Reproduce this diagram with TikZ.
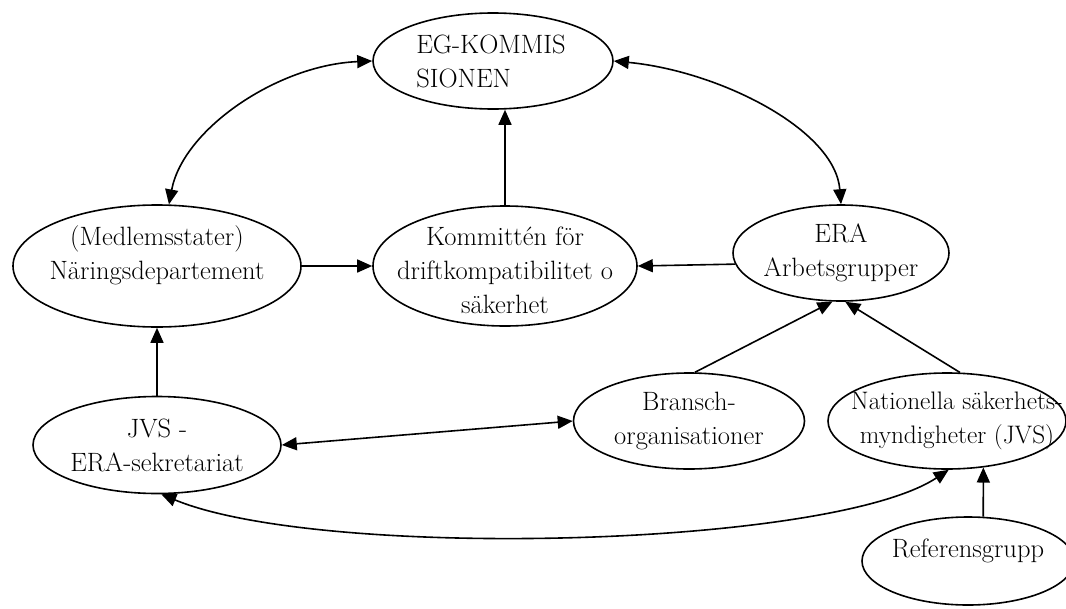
\documentclass[tikz,border=0pt]{standalone}
\usetikzlibrary{shapes.geometric,arrows.meta}
\tikzset{
  box/.style={ellipse, draw, line width=1.6pt, inner sep=0pt},
  lab/.style={font=\fontsize{26.5}{34}\selectfont, align=center, inner sep=0pt},
  tip/.tip={Triangle[length=15pt,width=13pt]},
  arr/.style={line width=1.6pt, -tip},
  darr/.style={line width=1.6pt, tip-tip},
}
\begin{document}
\begin{tikzpicture}[x=1pt,y=-1pt]
\useasboundingbox (0,0) rectangle (1066,608);
\clip (0,0) rectangle (1066,608);

\node[box, minimum width=240pt, minimum height=96pt,
  label={[lab, align=left, xshift=-2pt]center:{EG-KOMMIS\\SIONEN}}] (eg) at (493,61) {};
\node[box, minimum width=288pt, minimum height=122pt,
  label={[lab, yshift=11pt]center:{(Medlemsstater)\\Näringsdepartement}}] (med) at (157,266) {};
\node[box, minimum width=264pt, minimum height=120pt,
  label={[lab, yshift=-4pt]center:{Kommittén för\\driftkompatibilitet o\\säkerhet}}] (kom) at (505,266) {};
\node[box, minimum width=216pt, minimum height=96pt,
  label={[lab]center:{ERA\\Arbetsgrupper}}] (era) at (841,253) {};
\node[box, minimum width=248pt, minimum height=97pt,
  label={[lab]center:{JVS -\\ERA-sekretariat}}] (jvs) at (157,445) {};
\node[box, minimum width=231pt, minimum height=96pt,
  label={[lab]center:{Bransch-\\organisationer}}] (bra) at (689,421) {};
\node[box, minimum width=238pt, minimum height=96pt,
  label={[lab, font=\fontsize{25.3}{34}\selectfont, xshift=10pt]center:{Nationella säkerhets-\\myndigheter (JVS)}}] (nat) at (947,421) {};
\node[box, minimum width=212pt, minimum height=88pt,
  label={[lab, yshift=10pt]center:{Referensgrupp}}] (ref) at (968,561) {};

\draw[darr] (med.79) .. controls +(14,-75) and +(-95,4) .. (eg.west);
\draw[darr] (eg.east) .. controls +(105,10) and +(-6,-75) .. (era.north);
\draw[arr] (kom.north) -- (kom.north |- eg.south);
\draw[arr] (med.east) -- (kom.west);
\draw[arr] (era.186) -- (kom.east);
\draw[arr] (bra.83) -- (era.260);
\draw[arr] (nat.75) -- (era.275);
\draw[arr] (jvs.north) -- (med.south);
\draw[darr] (jvs.east) -- (bra.west);
\draw[darr] (jvs.275) .. controls +(160,66) and +(-118,78) .. (nat.272);
\draw[arr] (ref.71) -- (nat.308);
\end{tikzpicture}
\end{document}
